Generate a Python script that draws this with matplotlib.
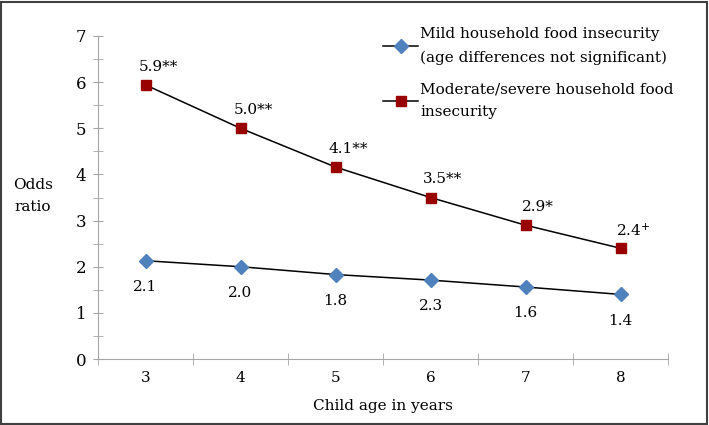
import matplotlib
matplotlib.use("Agg")
import matplotlib.pyplot as plt
from matplotlib.patches import Rectangle

ages = [3, 4, 5, 6, 7, 8]
mild = [2.13, 2.00, 1.83, 1.71, 1.56, 1.40]
mild_labels = ["2.1", "2.0", "1.8", "2.3", "1.6", "1.4"]
moderate = [5.94, 5.00, 4.16, 3.50, 2.90, 2.40]
moderate_labels = ["5.9**", "5.0**", "4.1**", "3.5**", "2.9*", "2.4$^{+}$"]
yticks = [0, 1, 2, 3, 4, 5, 6, 7]

plt.rcParams['font.family'] = ['DejaVu Serif']
plt.rcParams['mathtext.fontset'] = 'dejavuserif'

W, H = 709, 425
fig = plt.figure(figsize=(W / 100, H / 100), dpi=100)
ax = fig.add_axes([98 / W, 1 - 359 / H, (668 - 98) / W, (359 - 36) / H])

ax.plot(ages, mild, color='black', lw=1.1, marker='D', markersize=7,
        markerfacecolor='#4F81BD', markeredgecolor='#4F81BD',
        label='Mild household food insecurity\n(age differences not significant)')
ax.plot(ages, moderate, color='black', lw=1.1, marker='s', markersize=7.5,
        markerfacecolor='#990000', markeredgecolor='#990000',
        label='Moderate/severe household food\ninsecurity')

for x, y, t in zip(ages, mild, mild_labels):
    ax.annotate(t, (x, y), xytext=(0, -19), textcoords='offset points',
                ha='center', va='center', fontsize=11)
for x, y, t in zip(ages, moderate, moderate_labels):
    ax.annotate(t, (x, y), xytext=(9, 13), textcoords='offset points',
                ha='center', va='center', fontsize=11)

ax.set_xlim(2.5, 8.5)
ax.set_ylim(0, 7)
ax.set_yticks(yticks)
ax.set_yticks([v + 0.5 for v in yticks[:-1]], minor=True)
ax.set_xticks(ages)
ax.set_xticks([a - 0.5 for a in ages] + [8.5], minor=True)
ax.tick_params(axis='x', which='major', length=0, labelsize=11, pad=9)
ax.tick_params(axis='x', which='minor', length=8, direction='inout', color='#A6A6A6')
ax.tick_params(axis='y', which='both', length=6.5, direction='inout', color='#A6A6A6',
               labelsize=12, pad=5)

for s in ['top', 'right']:
    ax.spines[s].set_visible(False)
for s in ['left', 'bottom']:
    ax.spines[s].set_color('#A6A6A6')

ax.set_xlabel('Child age in years', fontsize=11, labelpad=10)
ax.text((33 - 98) / 570, (359 - 196) / 323, 'Odds\nratio', transform=ax.transAxes,
        ha='center', va='center', fontsize=11, linespacing=1.75)

leg = fig.legend(loc='upper left', bbox_to_anchor=(383 / W, 1 - 27 / H), frameon=False,
                 fontsize=11, handlelength=2.3, handletextpad=0.15, labelspacing=1.15,
                 borderpad=0, borderaxespad=0)
for t in leg.get_texts():
    t.set_linespacing(1.8)

fig.patches.append(Rectangle((0.002, 0.003), 0.995, 0.993, transform=fig.transFigure,
                             fill=False, edgecolor='#404040', lw=1.5))

fig.savefig('out.png', dpi=100)
